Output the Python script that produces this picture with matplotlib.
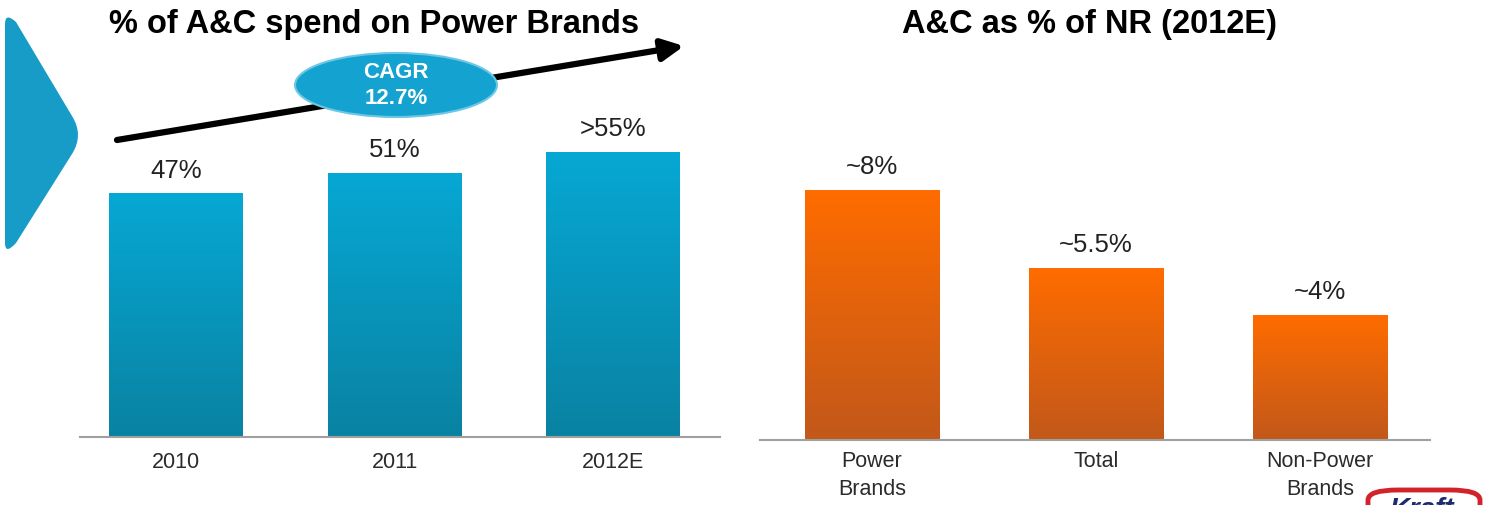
import numpy as np
import matplotlib
matplotlib.use("Agg")
import matplotlib.pyplot as plt
from matplotlib.colors import LinearSegmentedColormap
from matplotlib.patches import Ellipse, PathPatch, FancyBboxPatch
from matplotlib.path import Path

plt.rcParams['font.family'] = ['Liberation Sans', 'DejaVu Sans']

# share of A&C spend on power brands
years = ['2010', '2011', '2012E']
share = [47, 51, 55]
share_labels = ['47%', '51%', '>55%']

# A&C as % of net revenue, 2012E
groups = ['Power\nBrands', 'Total', 'Non-Power\nBrands']
ac_pct = [8, 5.5, 4]
ac_labels = ['~8%', '~5.5%', '~4%']

W, H = 1485, 505
fig = plt.figure(figsize=(W / 100, H / 100), dpi=100)


def px(x, y):
    # pixel position (origin top-left) -> figure fraction
    return x / W, 1 - y / H


def gradient_bars(ax, xs, vals, width, top, bottom):
    cmap = LinearSegmentedColormap.from_list('g', [bottom, top])
    grad = np.linspace(0, 1, 256).reshape(-1, 1)
    bars = ax.bar(xs, vals, width, color='none', zorder=2)
    for b in bars:
        x0, w, h = b.get_x(), b.get_width(), b.get_height()
        ax.imshow(grad, extent=[x0, x0 + w, 0, h], origin='lower',
                  aspect='auto', cmap=cmap, zorder=2)
    return bars


def style_axis(ax, pad):
    ax.set_facecolor('none')
    for s in ['top', 'left', 'right']:
        ax.spines[s].set_visible(False)
    ax.spines['bottom'].set_color('#a0a0a0')
    ax.spines['bottom'].set_linewidth(1.5)
    ax.set_yticks([])
    ax.tick_params(axis='x', length=0, pad=pad, labelsize=15.5,
                   labelcolor='#2b2b2b')


# left chart
ax1 = fig.add_axes([80 / W, (H - 437) / H, 640 / W, 437 / H])
x1 = np.arange(len(years))
bars1 = gradient_bars(ax1, x1, share, 0.61, '#06a8d4', '#0a82a2')
ax1.set_xlim(-0.44, 2.49)
ax1.set_ylim(0, 84.5)
ax1.set_xticks(x1, years)
style_axis(ax1, 11)
for b, lab in zip(bars1, share_labels):
    ax1.annotate(lab, (b.get_x() + b.get_width() / 2, b.get_height()),
                 xytext=(0, 8), textcoords='offset points',
                 ha='center', va='bottom', fontsize=18.5, color='#222222')

# right chart
ax2 = fig.add_axes([760 / W, (H - 440) / H, 670 / W, 440 / H])
x2 = np.arange(len(groups))
bars2 = gradient_bars(ax2, x2, ac_pct, 0.6, '#ff6c00', '#c2581a')
ax2.set_xlim(-0.5, 2.49)
ax2.set_ylim(0, 14.1)
ax2.set_xticks(x2, groups)
style_axis(ax2, 8)
for t in ax2.get_xticklabels():
    t.set_linespacing(1.4)
for b, lab in zip(bars2, ac_labels):
    ax2.annotate(lab, (b.get_x() + b.get_width() / 2, b.get_height()),
                 xytext=(0, 8), textcoords='offset points',
                 ha='center', va='bottom', fontsize=18.5, color='#222222')

# titles
fig.text(*px(374, 24), '% of A&C spend on Power Brands', ha='center',
         va='center', fontsize=23.5, fontweight='bold', color='black')
fig.text(*px(1090, 24), 'A&C as % of NR (2012E)', ha='center',
         va='center', fontsize=23.5, fontweight='bold', color='black')

# growth arrow with CAGR bubble
fig.add_artist(plt.Annotation(
    '', xy=px(684, 46), xytext=px(117, 140),
    xycoords='figure fraction', textcoords='figure fraction',
    arrowprops=dict(arrowstyle='-|>,head_length=1.3,head_width=0.65',
                    color='black', lw=4.5, shrinkA=0, shrinkB=0)))
cx, cy = px(396, 85)
fig.add_artist(Ellipse((cx, cy), 202 / W, 64 / H, transform=fig.transFigure,
                       facecolor='#14a3d0', edgecolor='#6cc6e6', lw=1.5,
                       zorder=5))
fig.text(*px(396, 72), 'CAGR', ha='center', va='center', fontsize=16,
         fontweight='bold', color='white', zorder=6)
fig.text(*px(396, 99), '12.7%', ha='center', va='center', fontsize=16,
         fontweight='bold', color='white', zorder=6)

# chevron on the left edge
pts = [(5, 24), (5, 12), (16, 22), (72, 116), (84, 135), (72, 154),
       (16, 243), (5, 255), (5, 243), (5, 24)]
codes = [Path.MOVETO, Path.CURVE3, Path.CURVE3, Path.LINETO, Path.CURVE3,
         Path.CURVE3, Path.LINETO, Path.CURVE3, Path.CURVE3, Path.CLOSEPOLY]
chev = Path([px(x, y) for x, y in pts], codes)
fig.add_artist(PathPatch(chev, transform=fig.transFigure,
                         facecolor='#169cc6', edgecolor='none'))

# logo corner
fig.add_artist(FancyBboxPatch(px(1368, 540), 112 / W, 50 / H,
                              boxstyle='round,pad=0,rounding_size=0.02',
                              transform=fig.transFigure, facecolor='white',
                              edgecolor='#d2232a', lw=3.5))
fig.text(*px(1422, 497), 'Kraft', ha='center', va='top', fontsize=20,
         fontweight='bold', fontstyle='italic', color='#1c2c6e')

fig.savefig('out.png', dpi=100)
